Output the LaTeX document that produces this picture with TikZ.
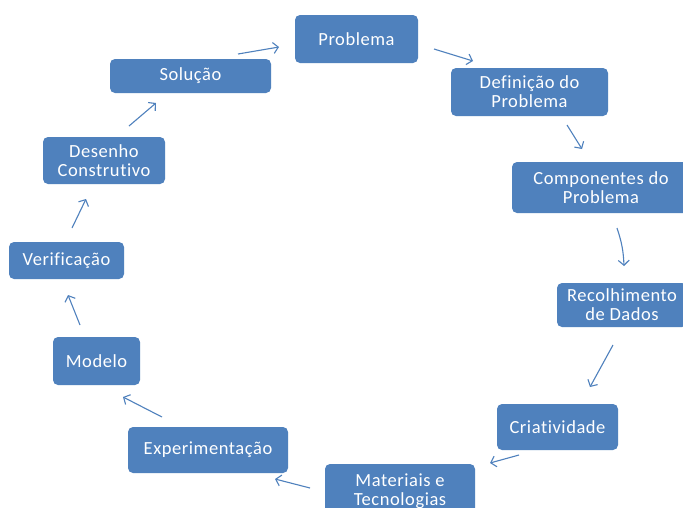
\documentclass[tikz,border=0pt]{standalone}
\usepackage{fontspec}
\setmainfont{Carlito}[Ligatures=NoCommon,LetterSpace=3]
\usetikzlibrary{arrows.meta}
\definecolor{boxblue}{RGB}{79,129,189}
\definecolor{arrblue}{RGB}{79,129,189}
\begin{document}
\begin{tikzpicture}[x=1pt,y=-1pt,
  box/.style={fill=boxblue, draw=none, rounded corners=5pt, text=white, align=center,
    inner sep=0pt, font=\fontsize{18.5}{19}\selectfont},
  arr/.style={draw=arrblue, line width=1.1pt, -{Straight Barb[length=5pt,width=11pt]}}]
\useasboundingbox (0,0) rectangle (683,507);
\clip (0,0) rectangle (683,507);
\fill[white] (0,0) rectangle (683,507);
% boxes
\node[box, minimum width=123pt, minimum height=48pt] (prob) at (356.5,39) {Problema};
\node[box, minimum width=157pt, minimum height=48pt] (def) at (529.5,92) {Definição do\\Problema};
\node[box, minimum width=178pt, minimum height=51pt] (comp) at (601,187.5) {Componentes do\\Problema};
\node[box, minimum width=130pt, minimum height=44pt] (rec) at (622,305) {Recolhimento\\de Dados};
\node[box, minimum width=121pt, minimum height=46pt] (criat) at (557.5,427) {Criatividade};
\node[box, minimum width=150pt, minimum height=54pt] (mat) at (400,491) {Materiais e\\Tecnologias};
\node[box, minimum width=160pt, minimum height=46pt] (exp) at (208,450) {Experimentação};
\node[box, minimum width=87pt, minimum height=48pt] (mod) at (96.5,361) {Modelo};
\node[box, minimum width=115pt, minimum height=37pt] (ver) at (66.5,260.5) {Verificação};
\node[box, minimum width=122pt, minimum height=47pt] (des) at (104,160.5) {Desenho\\Construtivo};
\node[box, minimum width=161pt, minimum height=34pt] (sol) at (190.5,76) {Solução};
% arrow end points
\coordinate (a1s) at (238,54);  \coordinate (a1e) at (279,47);
\coordinate (a2s) at (434,49);  \coordinate (a2e) at (473,61);
\coordinate (a3s) at (567,125); \coordinate (a3e) at (582,149);
\coordinate (a4s) at (617,228); \coordinate (a4e) at (624,266);
\coordinate (a5s) at (613,345); \coordinate (a5e) at (590,387);
\coordinate (a6s) at (519,455); \coordinate (a6e) at (490,463);
\coordinate (a7s) at (310,488); \coordinate (a7e) at (275,479);
\coordinate (a8s) at (162,417); \coordinate (a8e) at (123,397);
\coordinate (a9s) at (80,325);  \coordinate (a9e) at (68,295);
\coordinate (a10s) at (72,228); \coordinate (a10e) at (86,199);
\coordinate (a11s) at (129,126); \coordinate (a11e) at (156,103);
% arrows
\draw[arr] (a1s) -- (a1e);
\draw[arr] (a2s) -- (a2e);
\draw[arr] (a3s) -- (a3e);
\draw[arr] (a4s) to[bend left=8] (a4e);
\draw[arr] (a5s) -- (a5e);
\draw[arr] (a6s) -- (a6e);
\draw[arr] (a7s) -- (a7e);
\draw[arr] (a8s) -- (a8e);
\draw[arr] (a9s) -- (a9e);
\draw[arr] (a10s) -- (a10e);
\draw[arr] (a11s) -- (a11e);
\end{tikzpicture}
\end{document}
